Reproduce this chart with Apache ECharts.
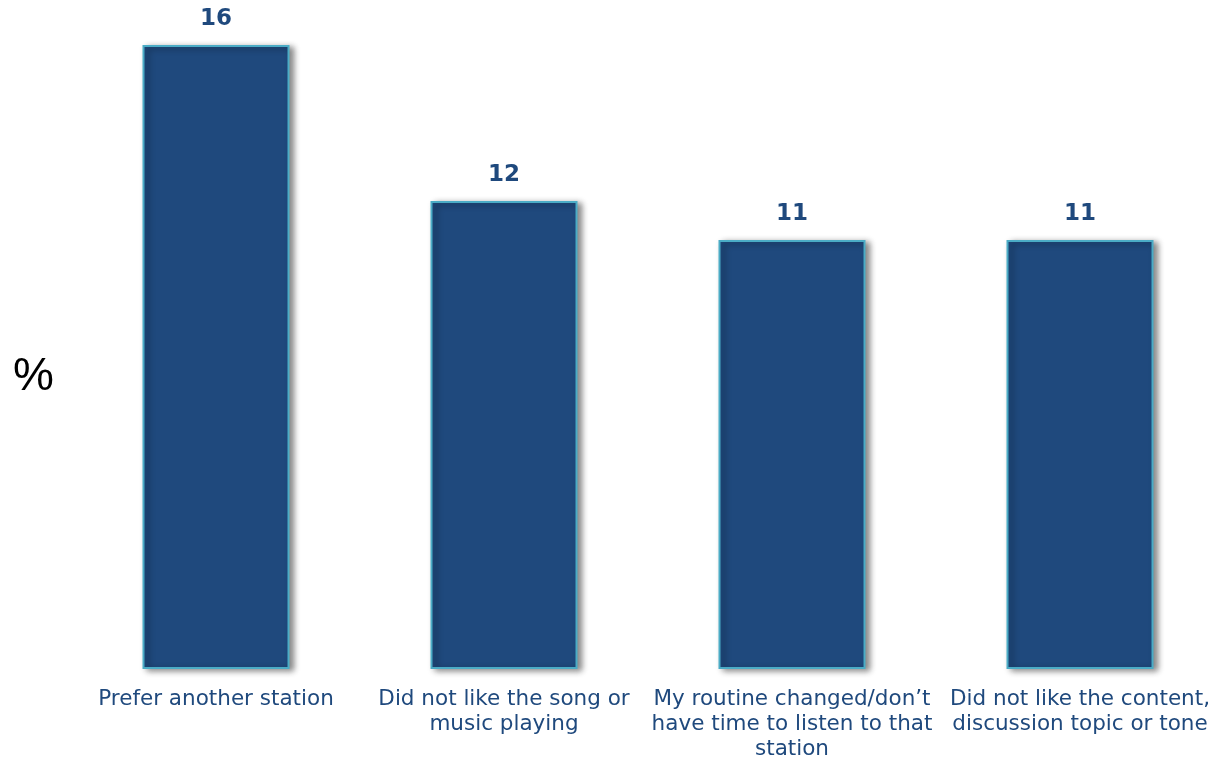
<!DOCTYPE html>
<html>
<head>
<meta charset="utf-8">
<script src="https://cdn.jsdelivr.net/npm/echarts@6/dist/echarts.min.js"></script>
<style>html,body{margin:0;padding:0;background:#fff;overflow:hidden}#c{width:1224px;height:760px}</style>
</head>
<body>
<div id="c"></div>
<script>
const categories = [
  "Prefer another station",
  "Did not like the song or\nmusic playing",
  "My routine changed/don\u2019t\nhave time to listen to that\nstation",
  "Did not like the content,\ndiscussion topic or tone"
];
const values = [16, 12, 11, 11];
const axisName = "%";

const chart = echarts.init(document.getElementById('c'), null, {renderer: 'canvas'});
chart.setOption({
  animation: false,
  backgroundColor: '#ffffff',
  grid: {left: 72, right: 0, top: 45, bottom: 91, containLabel: false, outerBoundsMode: 'none'},
  graphic: [{
    type: 'text', left: 13, top: 354,
    style: {text: axisName, fontSize: 46, fill: '#000', fontFamily: 'Liberation Sans, Arial, sans-serif'}
  }],
  xAxis: {
    type: 'category', data: categories,
    axisLine: {show: false}, axisTick: {show: false},
    axisLabel: {
      interval: 0, margin: 18, color: '#1F497D', fontSize: 21.5, lineHeight: 25,
      fontFamily: 'DejaVu Sans, Verdana, sans-serif', align: 'center'
    }
  },
  yAxis: {
    type: 'value', min: 0, max: 16, show: false,
    splitLine: {show: false}
  },
  series: [{
    type: 'bar', data: values, barWidth: 147,
    itemStyle: {
      color: '#1F497D', borderColor: '#4BACC6', borderWidth: 2,
      shadowColor: 'rgba(0,0,0,0.45)', shadowBlur: 6, shadowOffsetX: 4, shadowOffsetY: 2
    },
    label: {
      show: true, position: 'top', distance: 14, color: '#1F497D',
      fontSize: 23, fontWeight: 'bold', fontFamily: 'DejaVu Sans, Verdana, sans-serif'
    }
  }]
});
</script>
</body>
</html>
